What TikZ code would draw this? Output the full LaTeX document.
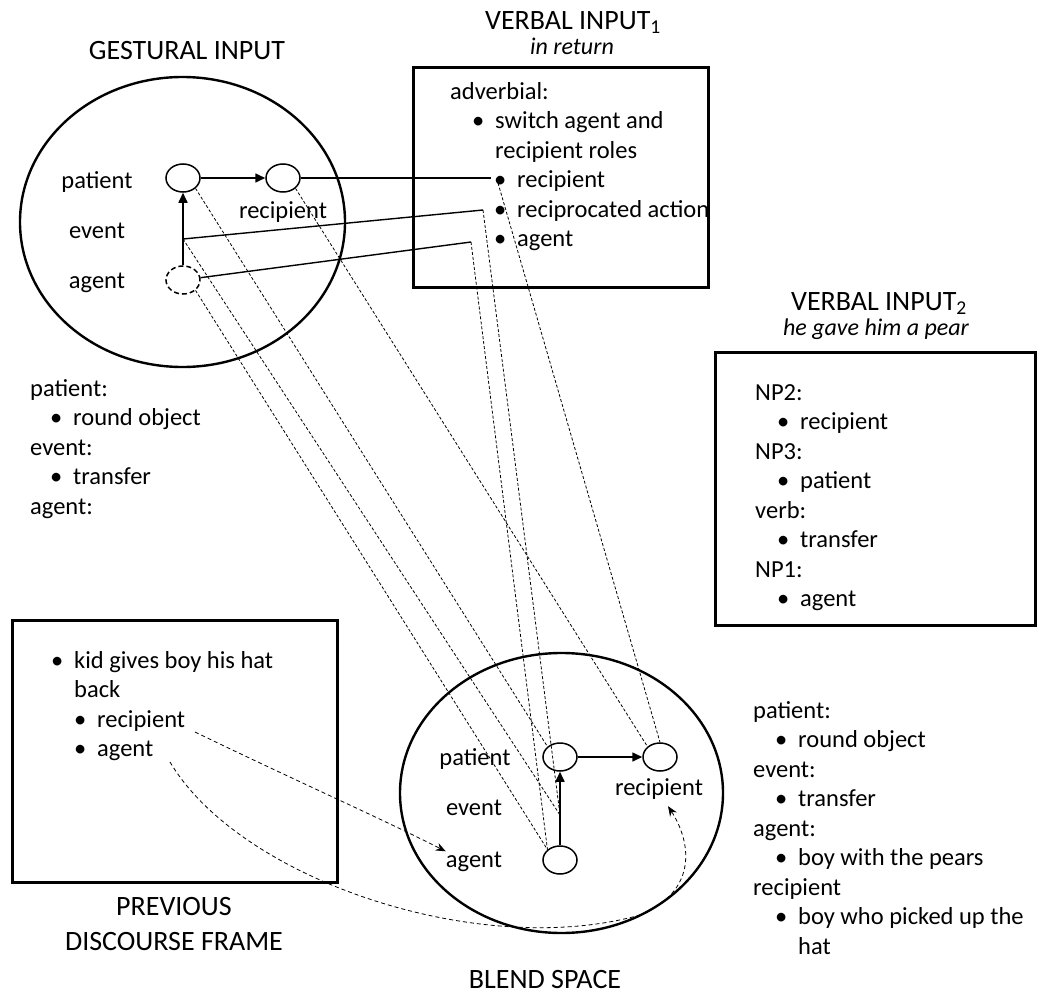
\documentclass[tikz,border=0pt]{standalone}
\usepackage{fontspec}
\setmainfont{Carlito}
\usepackage{tikz}
\usetikzlibrary{arrows.meta, positioning, shapes.geometric}

\newcommand{\bl}[1]{\hspace*{#1}\makebox[34pt][c]{\textbullet}}

\begin{document}
\begin{tikzpicture}[x=1pt, y=-1pt,
  spaceell/.style={ellipse, draw, line width=2.4pt, inner sep=0pt},
  boxframe/.style={rectangle, draw, line width=3pt, inner sep=0pt},
  role/.style={ellipse, draw, line width=1.5pt, minimum width=34pt, minimum height=28pt, inner sep=0pt},
  lbl/.style={inner sep=0pt, font=\fontsize{24.5}{29.5}\selectfont},
  txt/.style={lbl, align=left, anchor=base west},
  ttl/.style={inner sep=0pt, anchor=base, align=center, font=\fontsize{28}{35}\selectfont},
  subttl/.style={inner sep=0pt, anchor=base, font=\fontsize{24}{29}\selectfont\itshape},
  arr/.style={-{Triangle[length=10pt, width=9pt]}, line width=1.6pt},
  link/.style={line width=1.4pt},
  maplink/.style={dash pattern=on 3pt off 2pt, line width=0.8pt},
  curarr/.style={dash pattern=on 4pt off 3pt, line width=0.8pt, -{Stealth[length=10pt, width=8pt]}}
]
  \useasboundingbox (0,0) rectangle (1037,993);

  % gestural input
  \node[ttl] (gtitle) at (187,59) {GESTURAL INPUT};
  \node[spaceell, minimum width=325pt, minimum height=290pt] (gest) at (182.5,222) {};
  \node[role] (gp) at (183,178) {};
  \node[role] (gr) at (283,178) {};
  \node[role, dash pattern=on 5pt off 3pt] (ga) at (183,280) {};
  \coordinate (ge) at (183,239);
  \node[lbl, anchor=base] (gpl) at (97,188) {patient};
  \node[lbl, anchor=base] (gel) at (97,238) {event};
  \node[lbl, anchor=base] (gal) at (97,288) {agent};
  \node[lbl, anchor=base] (grl) at (283,218) {recipient};
  \draw[arr] (ga) -- (gp);
  \draw[arr] (gp) -- (gr);
  \node[txt] (gtxt) at (30,514) {patient:\\ \bl{9pt}round object\\ event:\\ \bl{9pt}transfer\\ agent:};

  % verbal input 1
  \node[ttl] (v1title) at (573,29) {VERBAL INPUT\textsubscript{1}};
  \node[subttl] (v1sub) at (572,54) {in return};
  \node[boxframe, minimum width=295pt, minimum height=220pt] (vone) at (560.5,177) {};
  \node[txt] (vonetxt) at (450,246.5) {adverbial:\\ \bl{11pt}switch agent and\\ \hspace*{45pt}recipient roles\\ \bl{33pt}recipient\\ \bl{33pt}reciprocated action\\ \bl{33pt}agent};
  \coordinate (vr) at (491,178);
  \coordinate (vc) at (483,210);
  \coordinate (va) at (471,242);

  % verbal input 2
  \node[ttl] (v2title) at (879,310) {VERBAL INPUT\textsubscript{2}};
  \node[subttl] (v2sub) at (876,335) {he gave him a pear};
  \node[boxframe, minimum width=320pt, minimum height=273pt] (vtwo) at (875,488.5) {};
  \node[txt] (vtwotxt) at (755,606.5) {NP2:\\ \bl{11pt}recipient\\ NP3:\\ \bl{11pt}patient\\ verb:\\ \bl{11pt}transfer\\ NP1:\\ \bl{11pt}agent};

  % previous discourse frame
  \node[boxframe, minimum width=325pt, minimum height=262pt] (prev) at (174.5,751) {};
  \node[txt] (prevtxt) at (40,756.5) {\bl{0pt}kid gives boy his hat\\ \hspace*{34pt}back\\ \bl{23pt}recipient\\ \bl{23pt}agent};
  \coordinate (pr) at (195,732);
  \coordinate (pa) at (170,762);
  \node[ttl] (ptitle) at (174,950) {PREVIOUS\\DISCOURSE FRAME};

  % blend space
  \node[spaceell, minimum width=323pt, minimum height=280pt] (blend) at (561.5,793) {};
  \node[role] (bp) at (560,757) {};
  \node[role] (br) at (660,757) {};
  \node[role] (ba) at (560,860) {};
  \coordinate (be) at (560,815);
  \node[lbl, anchor=base] (bpl) at (475,765) {patient};
  \node[lbl, anchor=base] (bel) at (474,815) {event};
  \node[lbl, anchor=base] (bal) at (474,867) {agent};
  \node[lbl, anchor=base] (brl) at (659,795) {recipient};
  \draw[arr] (ba) -- (bp);
  \draw[arr] (bp) -- (br);
  \node[txt] (btxt) at (753,954) {patient:\\ \bl{11pt}round object\\ event:\\ \bl{11pt}transfer\\ agent:\\ \bl{11pt}boy with the pears\\ recipient\\ \bl{11pt}boy who picked up the\\ \hspace*{45pt}hat};
  \node[ttl] (btitle) at (545,988) {BLEND SPACE};

  % links
  \draw[link] (gr) -- (vr);
  \draw[link] (ge) -- (vc);
  \draw[link] (ga) -- (va);
  \draw[maplink] (gp.south east) -- (bp.north west);
  \draw[maplink] (gr.south east) -- (br.north west);
  \draw[maplink] (ge) -- (be);
  \draw[maplink] (ga.south east) -- (ba.north west);
  \draw[maplink] ([xshift=7pt, yshift=-5pt]vr) -- (br.north);
  \draw[maplink] (vc) -- (be);
  \draw[maplink] (va) -- (ba.north west);
  \draw[curarr] (pr) .. controls (290,778) and (380,818) .. (bal.north west);
  \draw[curarr] (pa) .. controls (240,880) and (480,960) .. (640,915) .. controls (700,890) and (690,840) .. ([xshift=9pt, yshift=-7pt]brl.south);
\end{tikzpicture}
\end{document}
